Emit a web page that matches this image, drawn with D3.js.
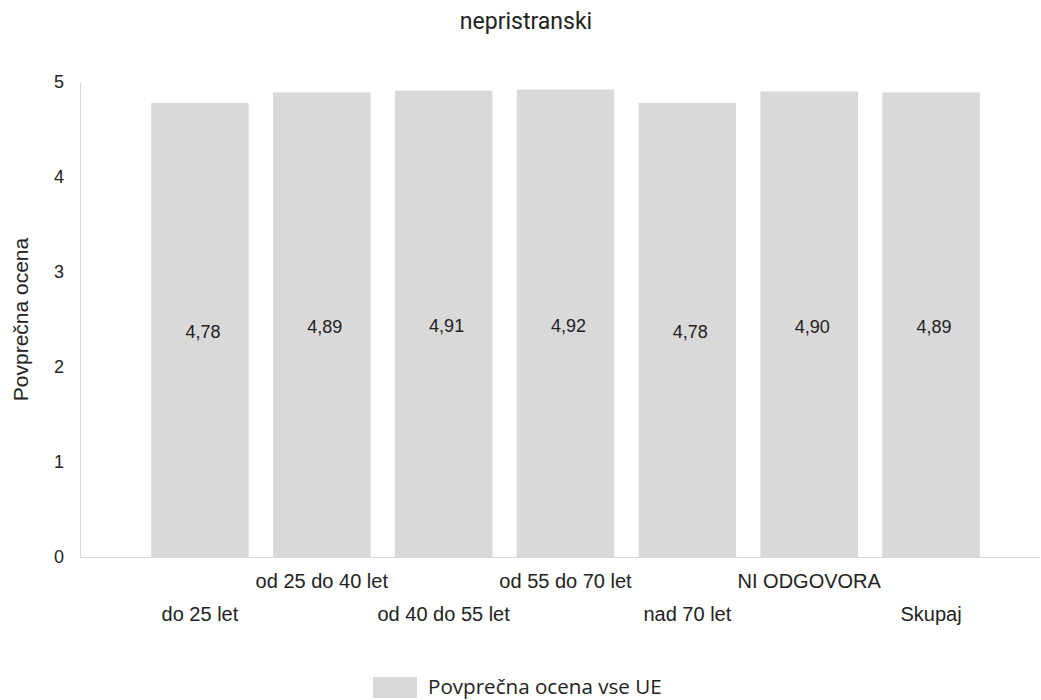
<!DOCTYPE html>
<html>
    <head>
        <meta charset="utf-8">
        <title>nepristranski</title>
        <script src="https://d3js.org/d3.v7.min.js"></script>
        <style>
            body{
                margin: 0;
                background: #fff;
            }
            .tick text, .xlab, .vlab, .ylab{
                font-family: "Liberation Sans", Arial, sans-serif;
                fill: #222;
            }
            .title{
                font-family: Roboto, "Liberation Sans", sans-serif;
                fill: #222;
            }
            .legend text{
                font-family: "Open Sans", "Noto Sans", sans-serif;
                fill: #222;
            }
        </style>
    </head>
    <body>
        <svg width="1041" height="700"></svg>
    <script>
        // data
        var categories = ["do 25 let", "od 25 do 40 let", "od 40 do 55 let", "od 55 do 70 let", "nad 70 let", "NI ODGOVORA", "Skupaj"];
        var values = [4.78, 4.89, 4.91, 4.92, 4.78, 4.90, 4.89];
        var yTicks = [0, 1, 2, 3, 4, 5];
        var seriesName = "Povprečna ocena vse UE";

        var svg = d3.select("svg");
        var barColor = "#d9d9d9";

        var x = d3.scaleBand()
            .domain(categories)
            .range([139, 992])
            .paddingInner(0.2)
            .paddingOuter(0.1);

        var y = d3.scaleLinear()
            .domain([0, 5])
            .range([557, 82]);

        // title
        svg.append("text")
            .attr("class", "title")
            .attr("x", 526)
            .attr("y", 29)
            .attr("text-anchor", "middle")
            .style("font-size", "23px")
            .text("nepristranski");

        // y axis
        var yAxis = svg.append("g")
            .attr("transform", "translate(80,0)")
            .call(d3.axisLeft(y).tickValues(yTicks).tickSize(0).tickPadding(16).tickFormat(d3.format("d")));
        yAxis.select(".domain").attr("stroke", "#d9d9d9");
        yAxis.selectAll(".tick text").style("font-size", "18px");

        // baseline
        svg.append("line")
            .attr("x1", 80)
            .attr("x2", 1040)
            .attr("y1", y(0) + 0.5)
            .attr("y2", y(0) + 0.5)
            .attr("stroke", "#d9d9d9");

        svg.append("text")
            .attr("class", "ylab")
            .attr("transform", "translate(28," + ((y(0) + y(5)) / 2) + ") rotate(-90)")
            .attr("text-anchor", "middle")
            .style("font-size", "21px")
            .text("Povprečna ocena");

        // bars
        svg.selectAll(".bar")
            .data(values)
            .enter()
            .append("rect")
            .attr("class", "bar")
            .attr("x", function (d, i) {return x(categories[i]);})
            .attr("width", x.bandwidth())
            .attr("y", function (d) {return y(d);})
            .attr("height", function (d) {return y(0) - y(d);})
            .attr("fill", barColor);

        // value labels
        svg.selectAll(".vlab")
            .data(values)
            .enter()
            .append("text")
            .attr("class", "vlab")
            .attr("x", function (d, i) {return x(categories[i]) + x.bandwidth() / 2 + 3;})
            .attr("y", function (d) {return (y(0) + y(d)) / 2 + 2;})
            .attr("dy", "0.35em")
            .attr("text-anchor", "middle")
            .style("font-size", "18px")
            .text(function (d) {return d.toFixed(2).replace(".", ",");});

        // category labels, staggered on two rows
        svg.selectAll(".xlab")
            .data(categories)
            .enter()
            .append("text")
            .attr("class", "xlab")
            .attr("x", function (d) {return x(d) + x.bandwidth() / 2;})
            .attr("y", function (d, i) {return i % 2 == 0 ? 621 : 588;})
            .attr("text-anchor", "middle")
            .style("font-size", "20px")
            .text(function (d) {return d;});

        // legend
        var legend = svg.append("g").attr("class", "legend");
        legend.append("rect")
            .attr("x", 373)
            .attr("y", 677)
            .attr("width", 44)
            .attr("height", 21)
            .attr("fill", barColor);
        legend.append("text")
            .attr("x", 428)
            .attr("y", 694)
            .style("font-size", "20.6px")
            .text(seriesName);
    </script>
    </body>
</html>
